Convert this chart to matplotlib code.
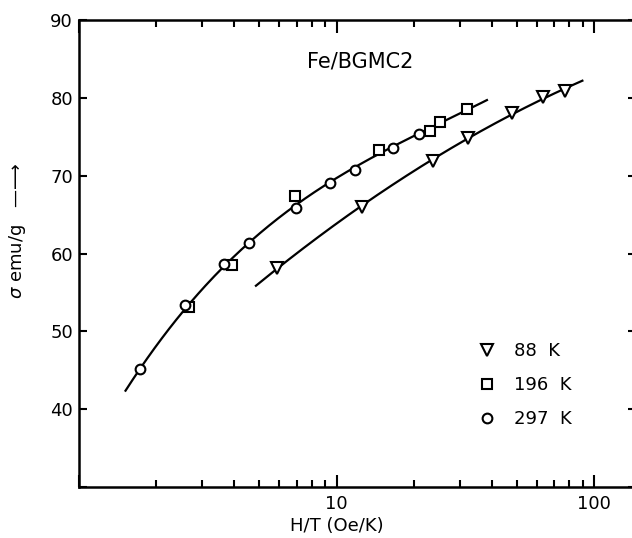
import numpy as np
import matplotlib
matplotlib.use('Agg')
import matplotlib.pyplot as plt
from matplotlib.ticker import FixedLocator, NullFormatter

# 297 K (circles)
h_297 = [1.73, 2.58, 3.65, 4.57, 6.98, 9.4, 11.8, 16.5, 20.9]
s_297 = [45.2, 53.4, 58.6, 61.3, 65.8, 69.1, 70.7, 73.5, 75.3]
# 196 K (squares)
h_196 = [2.69, 3.92, 6.93, 14.6, 23.1, 25.3, 32.0]
s_196 = [53.1, 58.5, 67.4, 73.35, 75.8, 76.9, 78.6]
# 88 K (triangles)
h_88 = [5.89, 12.5, 23.7, 32.2, 47.8, 63.3, 77.2]
s_88 = [58.15, 66.0, 71.9, 74.9, 78.1, 80.1, 80.9]

# extent of the drawn fit curves
upper_range = [1.52, 38.3]
lower_range = [4.87, 89.8]

plt.rcParams['font.family'] = 'DejaVu Sans'

fig = plt.figure(figsize=(6.32, 5.38), dpi=100)
ax = fig.add_axes([0.1244, 0.0948, 0.882, 0.868])
ax.set_xscale('log')

# smooth fits in log H/T
hx_up = np.log10(np.array(h_297 + h_196))
sy_up = np.array(s_297 + s_196)
p_up = np.polyfit(hx_up, sy_up, 3)
xu = np.logspace(np.log10(upper_range[0]), np.log10(upper_range[1]), 200)
ax.plot(xu, np.polyval(p_up, np.log10(xu)), color='black', lw=1.6, zorder=2)

p_lo = np.polyfit(np.log10(h_88), s_88, 2)
xl = np.logspace(np.log10(lower_range[0]), np.log10(lower_range[1]), 200)
ax.plot(xl, np.polyval(p_lo, np.log10(xl)), color='black', lw=1.6, zorder=2)

mk = dict(linestyle='none', markerfacecolor='white', markeredgecolor='black',
          markeredgewidth=1.5, zorder=3)
ax.plot(h_88, s_88, marker='v', markersize=9, label='88  K', **mk)
ax.plot(h_196, s_196, marker='s', markersize=7, label='196  K', **mk)
ax.plot(h_297, s_297, marker='o', markersize=7, label='297  K', **mk)

ax.set_xlim(1, 145)
ax.set_ylim(30, 90)

ax.xaxis.set_major_locator(FixedLocator([1, 10, 100]))
ax.set_xticklabels(['', '10', '100'])
minors = [m * d for d in (1, 10, 100) for m in range(2, 10)]
ax.xaxis.set_minor_locator(FixedLocator(minors))
ax.xaxis.set_minor_formatter(NullFormatter())
ax.set_yticks([30, 40, 50, 60, 70, 80, 90])
ax.set_yticklabels(['', '40', '50', '60', '70', '80', '90'])

ax.tick_params(which='both', direction='in', top=True, right=True,
               labelsize=13, width=1.5, pad=6)
ax.tick_params(which='major', length=9)
ax.tick_params(which='minor', length=5)
ax.tick_params(axis='y', which='major', length=6, pad=4)

for sp in ax.spines.values():
    sp.set_linewidth(1.8)

ax.text(12.4, 84.7, 'Fe/BGMC2', fontsize=15, ha='center', va='center')

ax.set_xlabel('H/T (Oe/K)', fontsize=13)
ax.xaxis.set_label_coords(0.463, -0.065)
ax.set_ylabel('$\\sigma$ emu/g   \u2014\u27f6', fontsize=13)
ax.yaxis.set_label_coords(-0.09, 0.55)

ax.legend(loc='upper left', bbox_to_anchor=(0.70, 0.33), frameon=False,
          fontsize=13, handlelength=1.0, handletextpad=1.0, labelspacing=0.9,
          borderpad=0)

fig.savefig('out.png', dpi=100)
